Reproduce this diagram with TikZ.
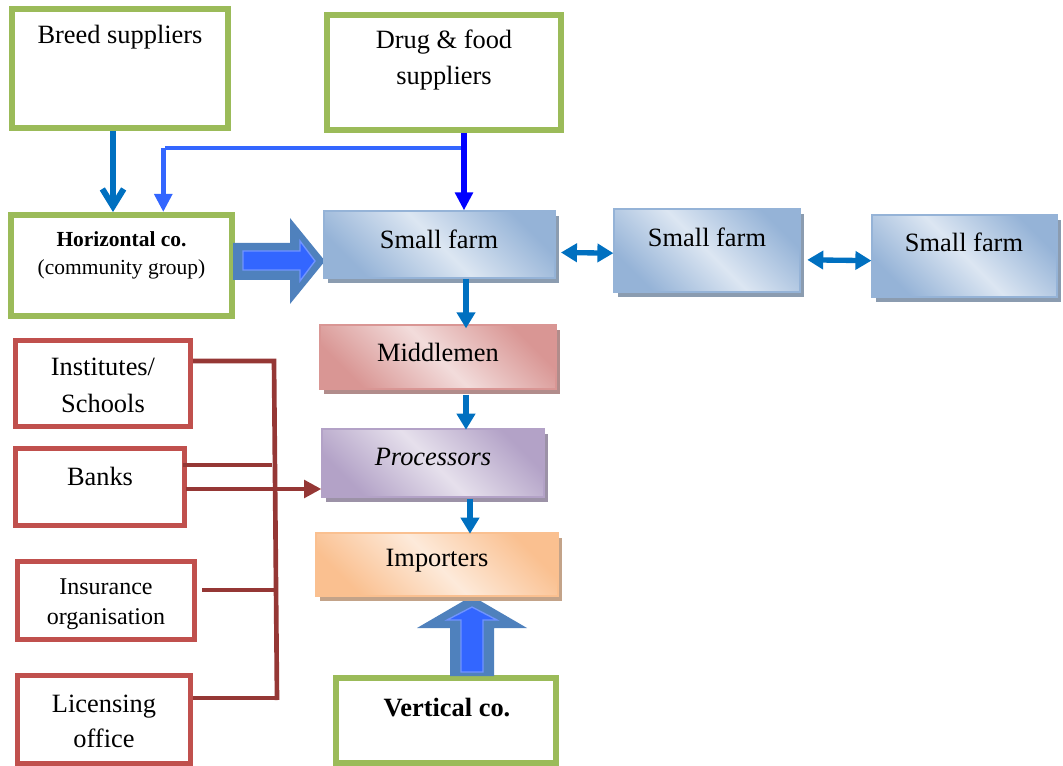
\documentclass[tikz,border=0pt]{standalone}
\usepackage{fontspec}
\setmainfont{Liberation Serif}
\usetikzlibrary{arrows.meta,shadows,calc}
\definecolor{gr}{HTML}{9BBB59}
\definecolor{rd}{HTML}{C0504D}
\definecolor{drd}{HTML}{953735}
\definecolor{ab}{HTML}{0070C0}
\definecolor{pb}{HTML}{0000FF}
\definecolor{lb}{HTML}{3366FF}
\definecolor{blk}{HTML}{4F81BD}
\definecolor{bdk}{HTML}{95B3D7}\definecolor{blt}{HTML}{DCE6F2}
\definecolor{rdk}{HTML}{D99694}\definecolor{rlt}{HTML}{F2DCDB}
\definecolor{pdk}{HTML}{B3A2C7}\definecolor{plt}{HTML}{E6E0EC}
\definecolor{odk}{HTML}{FAC090}\definecolor{olt}{HTML}{FDEADA}
\newcommand\fmain{\fontsize{19.8}{26.3}\selectfont}
\newcommand\fins{\fontsize{18}{22.5}\selectfont}
\newcommand\fhor{\fontsize{16.1}{21}\selectfont}
\tikzset{
  gbox/.style={draw=gr, line width=4.5pt, fill=white, inner sep=0pt},
  rbox/.style={draw=rd, line width=3.75pt, fill=white, inner sep=0pt},
  shbox/.style n args={2}{draw=#1, line width=0.9pt, inner sep=0pt,
     drop shadow={shadow xshift=3pt, shadow yshift=-3.5pt, fill=#1!55!gray, opacity=1},
     top color=#1, bottom color=#1, middle color=#2, shading angle=-45},
  txt/.style={font=\fmain, align=center, inner sep=0pt},
  redline/.style={draw=drd, line width=3.5pt},
  smallarrow/.style={draw=ab, line width=4pt, -{Triangle[width=13.5pt,length=12pt]}},
  dblarrow/.style={draw=ab, line width=4pt, {Triangle[width=13.5pt,length=12pt]}-{Triangle[width=13.5pt,length=12pt]}},
}
\begin{document}
\begin{tikzpicture}[x=0.75pt,y=-0.75pt]
\useasboundingbox (0,0) rectangle (1063,766);

% green boxes
\node[gbox, minimum width=162pt, minimum height=89.25pt] (breed) at (120,68.5) {};
\node[gbox, minimum width=175.5pt, minimum height=86.25pt] (drug) at (444,72.5) {};
\node[gbox, minimum width=165.75pt, minimum height=75.75pt] (hor) at (121.5,265.5) {};
\node[gbox, minimum width=165pt, minimum height=63.75pt] (vert) at (446,720.5) {};

% red boxes
\node[rbox, minimum width=131.25pt, minimum height=64.5pt] (inst) at (103,383.5) {};
\node[rbox, minimum width=126.75pt, minimum height=57.75pt] (banks) at (100,487) {};
\node[rbox, minimum width=132.75pt, minimum height=58.5pt] (ins) at (106,600.5) {};
\node[rbox, minimum width=129.75pt, minimum height=66pt] (lic) at (104,719.5) {};

% block arrows (behind shaded boxes)
\fill[blk] (233,243) -- (290,243) -- (290,218) -- (325,261) -- (290,304) -- (290,280) -- (233,280) -- cycle;
\filldraw[fill=lb, draw=lb!70!white, line width=1pt] (243,251) -- (300,251) -- (300,241) -- (315,261) -- (300,281) -- (300,270) -- (243,270) -- cycle;
\fill[blk] (450,676) -- (450,628) -- (417,628) -- (472,596) -- (527,628) -- (494,628) -- (494,676) -- cycle;
\filldraw[fill=lb, draw=lb!70!white, line width=1pt] (461,672) -- (461,620) -- (447,620) -- (472,607) -- (497,620) -- (483,620) -- (483,672) -- cycle;

% shaded boxes
\node[shbox={bdk}{blt}, minimum width=173.25pt, minimum height=50.25pt] (sf1) at (439.5,244.5) {};
\node[shbox={bdk}{blt}, minimum width=139.5pt, minimum height=62.25pt] (sf2) at (707,250.5) {};
\node[shbox={bdk}{blt}, minimum width=138.75pt, minimum height=61.5pt] (sf3) at (964.5,256) {};
\node[shbox={rdk}{rlt}, minimum width=177pt, minimum height=48pt] (mid) at (438,357) {};
\node[shbox={pdk}{plt}, minimum width=166.5pt, minimum height=51pt] (proc) at (433,463) {};
\node[shbox={odk}{olt}, minimum width=181.5pt, minimum height=47.25pt] (imp) at (437,564.5) {};

% texts
\node[txt] (tbreed) at (120,37) {Breed suppliers};
\node[txt] (tdrug) at (444,60) {Drug \& food\\suppliers};
\node[txt, font=\fhor] (thor) at (121.5,255) {\textbf{Horizontal co.}\\(community group)};
\node[txt] (tvert) at (447,708) {\textbf{Vertical co.}};
\node[txt] (tsf1) at (439,239) {Small farm};
\node[txt] (tsf2) at (707,237) {Small farm};
\node[txt] (tsf3) at (964,242) {Small farm};
\node[txt] (tmid) at (438,352) {Middlemen};
\node[txt] (tproc) at (433,457) {\itshape Processors};
\node[txt] (timp) at (437,561) {Importers};
\node[txt, font=\fontsize{19.8}{27.7}\selectfont] (tinst) at (103,385) {Institutes/\\Schools};
\node[txt] (tbanks) at (100,476) {Banks};
\node[txt, font=\fins] (tins) at (106,604) {Insurance\\organisation};
\node[txt] (tlic) at (104,721) {Licensing\\office};

% top connectors
\coordinate (ax) at (113,0);
\coordinate (j) at (464,148);
\coordinate (k) at (165,148);
\draw[draw=ab, line width=4.5pt, -{Straight Barb[width=16pt,length=13pt]}] (breed.south -| ax) -- (hor.north -| ax);
\draw[draw=lb, line width=3.5pt] (j) -- (k);
\draw[draw=lb, line width=3.5pt, -{Triangle[width=13pt,length=13.5pt]}] ([xshift=-1.3pt]k) -- ([xshift=-1.3pt]k |- hor.north);
\draw[draw=pb, line width=4pt, -{Triangle[width=13pt,length=13.5pt]}] (drug.south -| j) -- (sf1.north -| j);

% farm chain
\coordinate (c1) at (466,0);
\coordinate (c2) at (470,0);
\draw[smallarrow] (sf1.south -| c1) -- ([yshift=-3pt]mid.north -| c1);
\draw[smallarrow] ([yshift=-4pt]mid.south -| c1) -- ([yshift=-1pt]proc.north -| c1);
\draw[smallarrow] ([yshift=-1pt]proc.south -| c2) -- ([yshift=-1pt]imp.north -| c2);
\draw[dblarrow] ([xshift=4pt,yshift=-6pt]sf1.east) -- ([yshift=-2pt]sf2.west);
\draw[dblarrow] ([xshift=5pt,yshift=-7pt]sf2.east) -- ([yshift=-3.5pt]sf3.west);

% red connectors
\coordinate (bt) at (274,361);
\coordinate (bb) at (277,700);
\coordinate (b1) at (272,465);
\coordinate (i1) at (276,590);
\coordinate (l1) at (279,698);
\coordinate (ba) at (0,489);
\draw[redline] (inst.east |- bt) -- (bt) -- (bb);
\draw[redline] ([xshift=-3pt]banks.east |- b1) -- (b1);
\draw[redline, -{Triangle[width=13pt,length=13pt]}] ([xshift=-1pt]banks.east |- ba) -- (proc.west |- ba);
\draw[redline] ([xshift=4pt]ins.east |- i1) -- (i1);
\draw[redline] (lic.east |- l1) -- (l1);
\end{tikzpicture}
\end{document}
